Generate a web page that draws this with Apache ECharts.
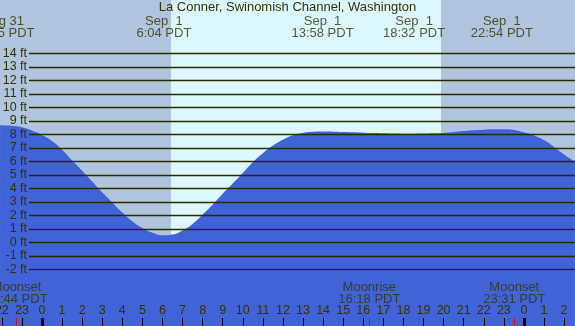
<!DOCTYPE html>
<html><head><meta charset="utf-8">
<script src="https://cdn.jsdelivr.net/npm/echarts@6/dist/echarts.min.js"></script>
<style>html,body{margin:0;padding:0;background:#b0c4de}#c{width:575px;height:326px}</style>
</head><body><div id="c"></div>
<script>
// Title
const titleText = 'La Conner, Swinomish Channel, Washington';
// Tide curve: hours from midnight Sep 1 (negative = Aug 31), heights in ft
const tideHours = [-2.09, -1.5, -1.0, -0.5, 0.0, 0.5, 1.0, 1.5, 2.0, 2.5, 3.0, 3.5, 4.0, 4.5, 5.0, 5.5, 6.0, 6.5, 7.0, 7.5, 8.0, 8.5, 9.0, 9.5, 10.0, 10.5, 11.0, 11.5, 12.0, 12.5, 13.0, 13.5, 14.0, 14.5, 15.0, 15.5, 16.0, 16.5, 17.0, 17.5, 18.0, 18.5, 19.0, 19.5, 20.0, 20.5, 21.0, 21.5, 22.0, 22.5, 23.0, 23.5, 24.0, 24.5, 25.0, 25.5, 26.0, 26.54];
const tideFeet  = [8.67, 8.63, 8.52, 8.28, 7.95, 7.5, 6.85, 6.05, 5.3, 4.5, 3.7, 2.95, 2.2, 1.55, 1.05, 0.7, 0.52, 0.58, 0.88, 1.35, 2.05, 2.8, 3.6, 4.35, 5.13, 5.93, 6.6, 7.17, 7.6, 7.93, 8.1, 8.18, 8.2, 8.19, 8.17, 8.15, 8.12, 8.09, 8.07, 8.05, 8.04, 8.04, 8.05, 8.07, 8.1, 8.17, 8.24, 8.3, 8.34, 8.37, 8.37, 8.32, 8.15, 7.92, 7.57, 7.06, 6.5, 5.97];
// Tide extremes (top labels)
const extremeHours = [-1.92, 6.07, 13.97, 18.53, 22.9];
const extremeDates = ['Aug 31', 'Sep  1', 'Sep  1', 'Sep  1', 'Sep  1'];
const extremeTimes = ['22:05 PDT', '6:04 PDT', '13:58 PDT', '18:32 PDT', '22:54 PDT'];
// Moon events (bottom labels)
const moonHours = [-1.27, 16.3, 23.52];
const moonNames = ['Moonset', 'Moonrise', 'Moonset'];
const moonTimes = ['22:44 PDT', '16:18 PDT', '23:31 PDT'];
// Sun
const sunriseHour = 6.42;
const sunsetHour = 19.87;
// Axis ticks
const hourTicks = [];
for (let h = -2; h <= 26; h++) hourTicks.push(h);
const midnightTicks = [0, 24];
const feetMin = -2, feetMax = 14;

const X_MIN = -2.092, X_MAX = 26.544;
const Y_MIN = -6.2, Y_MAX = 17.948;
const textColor = '#333300';
const font = 'Liberation Sans, Arial, sans-serif';

const chart = echarts.init(document.getElementById('c'), null, {renderer: 'canvas'});
const tickAxis = (values, color, width, z) => ({
  type: 'value', gridIndex: 0, min: X_MIN, max: X_MAX, position: 'bottom', z: z,
  axisLine: {show: false, onZero: false}, splitLine: {show: false}, axisLabel: {show: false},
  axisTick: {show: true, inside: true, length: 8, customValues: values, lineStyle: {color: color, width: width}}
});
chart.setOption({
  animation: false,
  backgroundColor: '#b0c4de',
  textStyle: {fontFamily: font},
  title: {text: titleText, left: 'center', top: 1, padding: 0,
    textStyle: {fontSize: 13, fontWeight: 'normal', color: textColor, fontFamily: font}},
  grid: [
    {left: 0, right: 0, top: 0, bottom: 0, outerBoundsMode: 'none', containLabel: false},
    {left: 29, right: 0, top: 53.3, height: 216, outerBoundsMode: 'none', containLabel: false}
  ],
  xAxis: [
    {type: 'value', gridIndex: 0, min: X_MIN, max: X_MAX, position: 'bottom', z: 5,
      axisLine: {show: false, onZero: false}, splitLine: {show: false},
      axisTick: {show: true, inside: true, length: 8, customValues: hourTicks, lineStyle: {color: '#000', width: 1}},
      axisLabel: {show: true, inside: true, margin: 9, customValues: hourTicks, color: textColor, fontSize: 12.5, fontFamily: font,
        showMinLabel: true, showMaxLabel: true, hideOverlap: false,
        formatter: v => String(((Math.round(v) % 24) + 24) % 24)}},
    tickAxis(midnightTicks, '#000', 3, 6),
    tickAxis(moonHours, '#ff0000', 1, 6),
    {type: 'value', gridIndex: 1, min: X_MIN, max: X_MAX, show: false, axisLine: {onZero: false}}
  ],
  yAxis: [
    {type: 'value', gridIndex: 0, min: Y_MIN, max: Y_MAX, show: false},
    {type: 'value', gridIndex: 1, min: feetMin, max: feetMax, interval: 1, z: 5,
      axisLine: {show: false}, axisTick: {show: false},
      splitLine: {show: true, lineStyle: {color: '#2b2b00', width: 1.4}},
      axisLabel: {show: true, margin: 2, color: textColor, fontSize: 12.5, fontFamily: font, formatter: '{value} ft'}}
  ],
  series: [
    {type: 'line', xAxisIndex: 0, yAxisIndex: 0, data: [], z: 1, silent: true,
      markArea: {silent: true, itemStyle: {color: '#ddf7fe'},
        data: [[{xAxis: sunriseHour}, {xAxis: sunsetHour}]]}},
    {type: 'line', xAxisIndex: 0, yAxisIndex: 0, smooth: 0.5, symbol: 'none', z: 2,
      data: tideHours.map((h, i) => [h, tideFeet[i]]),
      lineStyle: {width: 0, color: '#4163d8'},
      areaStyle: {color: '#4163d8', opacity: 1, origin: 'start'}},
    {type: 'scatter', xAxisIndex: 0, yAxisIndex: 0, symbolSize: 0, z: 7,
      data: extremeHours.map((h, i) => ({value: [h, 15.95], name: extremeDates[i] + '\n' + extremeTimes[i]})),
      label: {show: true, position: 'inside', formatter: p => p.name, color: textColor, fontSize: 13, lineHeight: 12, fontFamily: font, align: 'center', verticalAlign: 'middle'}},
    {type: 'scatter', xAxisIndex: 0, yAxisIndex: 0, symbolSize: 0, z: 7,
      data: moonHours.map((h, i) => ({value: [h, -3.75], name: moonNames[i] + '\n' + moonTimes[i]})),
      label: {show: true, position: 'inside', formatter: p => p.name, color: textColor, fontSize: 13, lineHeight: 12, fontFamily: font, align: 'center', verticalAlign: 'middle'}}
  ]
});
</script></body></html>
